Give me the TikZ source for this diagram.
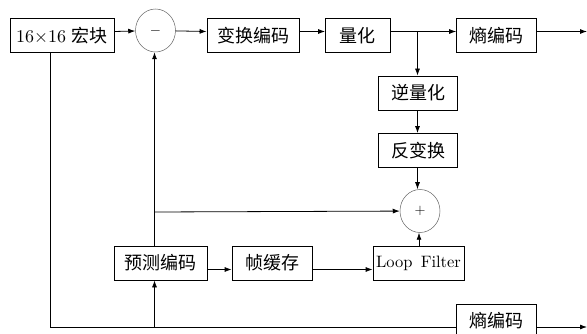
\documentclass[tikz,border=0pt]{standalone}
\usepackage{fontspec}
\setmainfont{lmroman10-regular.otf}
\newfontfamily\cjk{Noto Sans CJK SC}
\usetikzlibrary{arrows.meta,shapes.geometric}
\begin{document}
\begin{tikzpicture}[x=1pt,y=-1pt,
  blk/.style={draw, line width=0.8pt, inner sep=0pt, minimum height=34pt,
    font=\fontsize{18}{20}\selectfont},
  sumc/.style={ellipse, draw=black!60, line width=0.5pt, inner sep=0pt,
    minimum width=40pt, minimum height=43pt, font=\fontsize{14}{14}\selectfont},
  arr/.style={-{Latex[length=7pt,width=5pt]}, line width=0.8pt},
  ln/.style={line width=0.8pt}]
\clip (0,0) rectangle (587,334);
\useasboundingbox (0,0) rectangle (587,334);
% nodes
\node[blk, minimum width=104pt] (in) at (62,35.5) {16×16 {\cjk 宏块}};
\node[sumc] (minus) at (155.5,30.5) {$-$};
\node[blk, minimum width=92pt] (T) at (253,35.5) {\cjk 变换编码};
\node[blk, minimum width=64.5pt] (Q) at (357.75,35.5) {\cjk 量化};
\node[blk, minimum width=80pt] (E1) at (496.6,35.5) {\cjk 熵编码};
\node[blk, minimum width=79pt] (IQ) at (418,93) {\cjk 逆量化};
\node[blk, minimum width=79pt] (IT) at (418,150.5) {\cjk 反变换};
\node[sumc] (plus) at (420,211) {$+$};
\node[blk, minimum width=91pt, font=\fontsize{16.5}{18}\selectfont] (LF) at (418.5,263) {Loop\hspace{0.5em}Filter};
\node[blk, minimum width=80pt] (FB) at (272,263) {\cjk 帧缓存};
\node[blk, minimum width=93pt] (P) at (160.5,263) {\cjk 预测编码};
\node[blk, minimum width=80pt] (E2) at (496.6,321) {\cjk 熵编码};
% helper coordinates
\coordinate (r1) at (0,31.5);
\coordinate (out1) at (587,31.5);
\coordinate (b1) at (417.5,0);
\coordinate (b2) at (419,0);
\coordinate (j1) at (154.5,212);
\coordinate (r3) at (0,269.5);
\coordinate (k) at (50,0);
\coordinate (r4) at (0,327);
\coordinate (out2) at (587,327);
% connectors
\draw[arr] (in.east |- r1) -- (minus);
\draw[arr] (minus) -- (T.west |- r1);
\draw[arr] (T.east |- r1) -- (Q.west |- r1);
\draw[arr] (Q.east |- r1) -- (E1.west |- r1);
\draw[arr] (E1.east |- r1) -- (out1);
\draw[arr] (b1 |- r1) -- (IQ.north -| b1);
\draw[arr] (IQ.south -| b1) -- (IT.north -| b1);
\draw[arr] (IT.south -| b1) -- (plus.north -| b1);
\draw[arr] (LF.north -| b2) -- (plus.south -| b2);
\draw[arr] (P.north -| j1) -- (minus.south -| j1);
\draw[arr] (j1) -- (plus);
\draw[arr] (P.east |- r3) -- (FB.west |- r3);
\draw[arr] (FB.east |- r3) -- (LF.west |- r3);
\draw[ln] (in.south -| k) -- (k |- r4) -- (E2.west |- r4);
\draw[arr] (j1 |- r4) -- (P.south -| j1);
\draw[arr] (E2.east |- r4) -- (out2);
\end{tikzpicture}
\end{document}
